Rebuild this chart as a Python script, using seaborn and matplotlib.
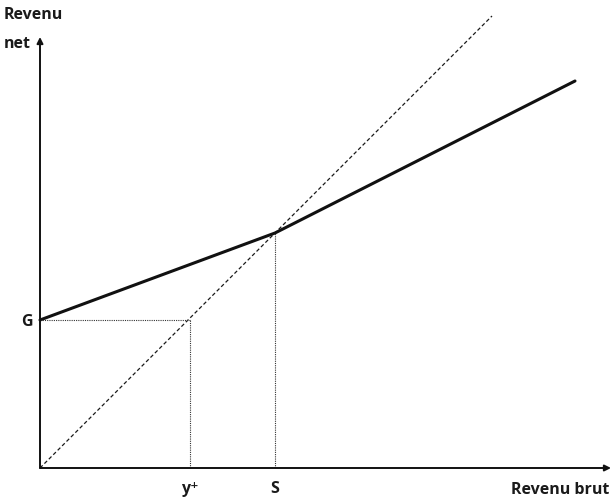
import numpy as np
import pandas as pd
import seaborn as sns
import matplotlib.pyplot as plt

# Data (units roughly match the drawing)
gross = [0, 235, 535]
net = [148, 235, 387]
diag_x = [0, 452]
diag_y = [0, 452]
g_level = 148
y_plus = 150
s_level = 235
tick_labels = ["y\u207a", "S"]

sns.set_style("white")
plt.rcParams['font.family'] = ['Open Sans', 'DejaVu Sans']

fig = plt.figure(figsize=(6.12, 5.0), dpi=100)
ax = fig.add_axes([0, 0, 1, 1])

net_df = pd.DataFrame({"brut": gross, "net": net})
diag_df = pd.DataFrame({"brut": diag_x, "net": diag_y})

# 45 degree line
sns.lineplot(data=diag_df, x="brut", y="net", ax=ax, color="#1a1a1a",
             lw=0.9, linestyle=(0, (3, 2)))
# net income schedule
sns.lineplot(data=net_df, x="brut", y="net", ax=ax, color="#111111", lw=2.2)

# guides
ax.plot([0, y_plus], [g_level, g_level], color="#333333", lw=0.8, linestyle=(0, (1, 1)))
ax.plot([y_plus, y_plus], [0, g_level], color="#333333", lw=0.8, linestyle=(0, (1, 1)))
ax.plot([s_level, s_level], [0, net[1]], color="#333333", lw=0.8, linestyle=(0, (1, 1)))

# axes with arrows
arrow = dict(arrowstyle='-|>', color="#111111", lw=1.4, mutation_scale=9,
             shrinkA=0, shrinkB=0)
ax.annotate('', xy=(571, 0), xytext=(0, 0), arrowprops=arrow)
ax.annotate('', xy=(0, 431), xytext=(0, 0), arrowprops=arrow)

fs = 11.5
ax.text(-36, 453, "Revenu", fontsize=fs, fontweight="bold", va="center", ha="left", color="#1a1a1a")
ax.text(-36, 424, "net", fontsize=fs, fontweight="bold", va="center", ha="left", color="#1a1a1a")
ax.text(569, -22, "Revenu brut", fontsize=fs, fontweight="bold", va="center", ha="right", color="#1a1a1a")
ax.text(-13, g_level - 2, "G", fontsize=fs, fontweight="bold", va="center", ha="center", color="#1a1a1a")
ax.text(y_plus, -21, tick_labels[0], fontsize=fs, fontweight="bold", va="center", ha="center", color="#1a1a1a")
ax.text(s_level, -21, tick_labels[1], fontsize=fs, fontweight="bold", va="center", ha="center", color="#1a1a1a")

ax.set_xlim(-40, 572)
ax.set_ylim(-32, 468)
ax.set_axis_off()

plt.savefig("out.png", dpi=100)
